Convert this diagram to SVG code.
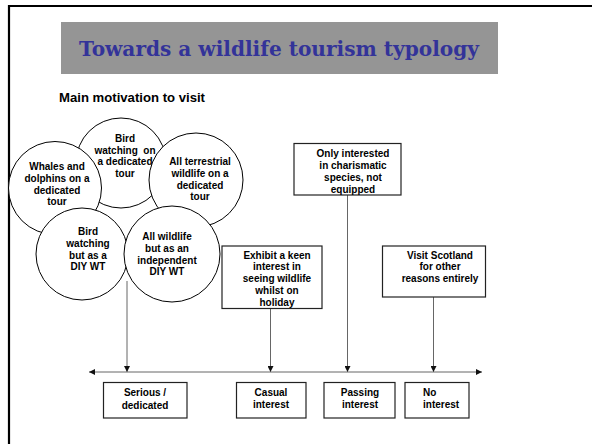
<svg xmlns="http://www.w3.org/2000/svg" width="592" height="444" viewBox="0 0 592 444">
<style>
.t{font-family:"Liberation Sans",Arial,sans-serif;font-weight:bold;font-size:10px;fill:#000;text-anchor:middle}
.c{fill:#fff;stroke:#000;stroke-width:1}
.b{fill:#fff;stroke:#222;stroke-width:1.2}
.ln{stroke:#666;stroke-width:1;fill:none}
</style>
<defs>
<marker id="ah" markerWidth="6" markerHeight="6" refX="6" refY="3" orient="auto" markerUnits="userSpaceOnUse">
<path d="M0,0 L6,3 L0,6 Z" fill="#111"/>
</marker>
</defs>
<rect width="592" height="444" fill="#fff"/>
<path d="M9,444 V6 H592" fill="none" stroke="#000" stroke-width="2.2"/>
<g id="title">
<rect x="61" y="22" width="437" height="52" fill="#959595"/>
<text x="279" y="56" text-anchor="middle" textLength="400" lengthAdjust="spacingAndGlyphs" style="font-family:'DejaVu Serif','Liberation Serif',serif;font-weight:bold;font-size:20px;fill:#333399">Towards a wildlife tourism typology</text>
</g>
<text x="59" y="102" textLength="146" lengthAdjust="spacingAndGlyphs" style="font-family:'Liberation Sans',Arial,sans-serif;font-weight:bold;font-size:12.5px;fill:#000">Main motivation to visit</text>
<g id="connectors">
<line class="ln" x1="127" y1="281" x2="127" y2="372" marker-end="url(#ah)"/>
<line class="ln" x1="270.5" y1="309" x2="270.5" y2="372" marker-end="url(#ah)"/>
<line class="ln" x1="347.5" y1="195" x2="347.5" y2="372" marker-end="url(#ah)"/>
<line class="ln" x1="433.5" y1="297" x2="433.5" y2="372" marker-end="url(#ah)"/>
<line class="ln" x1="286" y1="372" x2="89" y2="372" marker-end="url(#ah)"/>
<line class="ln" x1="286" y1="372" x2="482" y2="372" marker-end="url(#ah)"/>
</g>
<g id="bird-dedicated">
<circle class="c" cx="121" cy="163" r="45"/>
<text class="t" x="125" xml:space="preserve"><tspan x="125" y="141.8">Bird</tspan><tspan x="125" y="153.5">watching  on</tspan><tspan x="125" y="165.2">a dedicated</tspan><tspan x="125" y="176.9">tour</tspan></text>
</g>
<g id="terrestrial">
<circle class="c" cx="196" cy="180" r="47"/>
<text class="t"><tspan x="200" y="165.2">All terrestrial</tspan><tspan x="200" y="176.9">wildlife on a</tspan><tspan x="200" y="188.6">dedicated</tspan><tspan x="200" y="200.3">tour</tspan></text>
</g>
<g id="whales">
<circle class="c" cx="55" cy="188" r="46.5"/>
<text class="t"><tspan x="57" y="170.3">Whales and</tspan><tspan x="57" y="182">dolphins on a</tspan><tspan x="57" y="193.7">dedicated</tspan><tspan x="57" y="205.4">tour</tspan></text>
</g>
<g id="bird-diy">
<circle class="c" cx="82" cy="254" r="46"/>
<text class="t"><tspan x="88" y="235.3">Bird</tspan><tspan x="88" y="247">watching</tspan><tspan x="88" y="258.7">but as a</tspan><tspan x="88" y="270.4">DIY WT</tspan></text>
</g>
<g id="all-wildlife-diy">
<circle class="c" cx="172" cy="254" r="48"/>
<text class="t"><tspan x="167" y="240.3">All wildlife</tspan><tspan x="167" y="252">but as an</tspan><tspan x="167" y="263.7">independent</tspan><tspan x="167" y="275.4">DIY WT</tspan></text>
</g>
<g id="charismatic">
<rect class="b" x="294" y="143.5" width="107" height="51.5"/>
<text class="t"><tspan x="353" y="156.8">Only interested</tspan><tspan x="353" y="168.7">in charismatic</tspan><tspan x="353" y="180.6">species, not</tspan><tspan x="353" y="192.5">equipped</tspan></text>
</g>
<g id="keen">
<rect class="b" x="222" y="246" width="100" height="62.5"/>
<text class="t"><tspan x="277" y="258.5">Exhibit a keen</tspan><tspan x="277" y="270.4">interest in</tspan><tspan x="277" y="282.3">seeing wildlife</tspan><tspan x="277" y="294.2">whilst on</tspan><tspan x="277" y="306.1">holiday</tspan></text>
</g>
<g id="other-reasons">
<rect class="b" x="382.5" y="246" width="103" height="51"/>
<text class="t"><tspan x="440" y="258.5">Visit Scotland</tspan><tspan x="440" y="270.2">for other</tspan><tspan x="440" y="281.9">reasons entirely</tspan></text>
</g>
<g id="serious">
<rect class="b" x="103.5" y="382.5" width="83.5" height="35.5"/>
<text class="t"><tspan x="145" y="396.3">Serious /</tspan><tspan x="145" y="408.6">dedicated</tspan></text>
</g>
<g id="casual">
<rect class="b" x="236.5" y="382.5" width="69.5" height="35.5"/>
<text class="t"><tspan x="271" y="395.5">Casual</tspan><tspan x="271" y="407.5">interest</tspan></text>
</g>
<g id="passing">
<rect class="b" x="324" y="382.5" width="71" height="35.5"/>
<text class="t"><tspan x="360" y="395.5">Passing</tspan><tspan x="360" y="407.5">interest</tspan></text>
</g>
<g id="no-interest">
<rect class="b" x="405" y="382.5" width="64" height="35.5"/>
<text class="t" style="text-anchor:start"><tspan x="423" y="395.5">No</tspan><tspan x="423" y="407.5">interest</tspan></text>
</g>
</svg>
